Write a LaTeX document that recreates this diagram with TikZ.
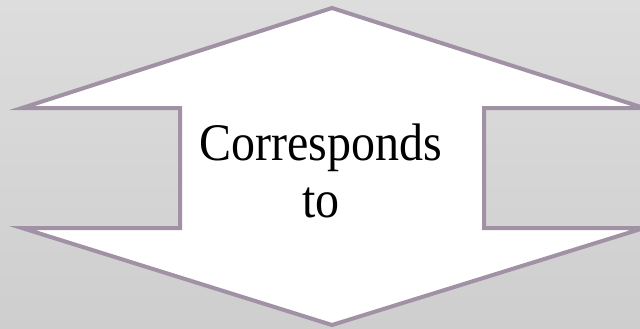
\documentclass[tikz,border=0pt]{standalone}
\usepackage{fontspec}
\setmainfont{Liberation Serif}
\definecolor{bgtop}{RGB}{221,221,221}
\definecolor{bgbot}{RGB}{206,206,206}
\definecolor{edge}{RGB}{160,145,164}
\tikzset{arrowshape/.style={draw=edge, line width=4pt, fill=white, line join=miter},
  labeltext/.style={font=\fontsize{48}{52}\selectfont, inner sep=0pt, anchor=base, yscale=1.1, transform shape}}
\begin{document}
\begin{tikzpicture}[x=1pt,y=-1pt]
\useasboundingbox (0,0) rectangle (640,329);
\shade[top color=bgtop, bottom color=bgbot] (0,0) rectangle (640,329);
\begin{scope}
\clip (0,0) rectangle (640,329);
\draw[arrowshape] (332,8) -- (644,108) -- (484,108) -- (484,228) -- (644,228)
  -- (332,325) -- (22,228) -- (180,228) -- (180,108) -- (22,108) -- cycle;
\end{scope}
\begin{scope}[y=1pt]
\node[labeltext] (line1) at (321,-160) {Corresponds};
\node[labeltext] (line2) at (321,-217) {to};
\end{scope}
\end{tikzpicture}
\end{document}
